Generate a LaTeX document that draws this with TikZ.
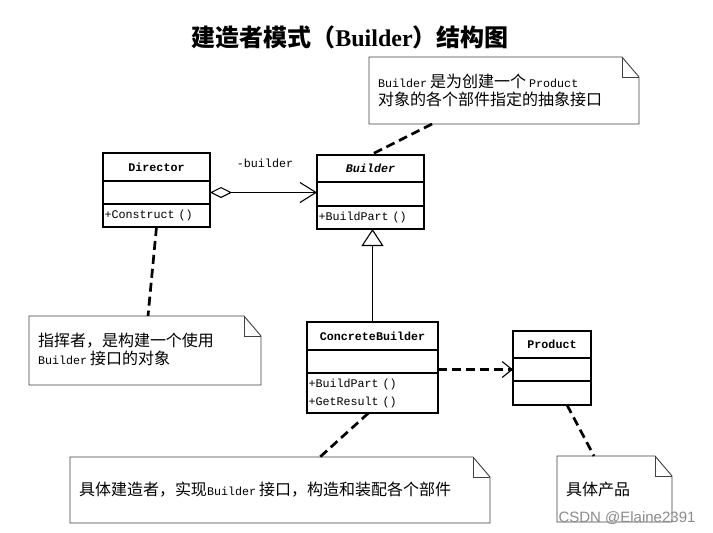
\documentclass[tikz,border=0pt]{standalone}
\usepackage{fontspec}
\setmainfont{Liberation Mono}
\newfontfamily\cjk{Noto Sans CJK SC}
\newfontfamily\titlelat{Liberation Serif}
\newfontfamily\wmfont{Liberation Sans}
\usetikzlibrary{positioning,calc,arrows.meta}

\newcommand{\zh}[1]{{\cjk\fontsize{16}{18}\selectfont #1}}
\newcommand{\en}[1]{{\rmfamily\fontsize{11.7}{18}\selectfont #1}}

\tikzset{
  umlbox/.style={draw, line width=1.1pt, inner xsep=1.5pt, inner ysep=0pt, outer sep=0pt,
    text width=#1, font=\fontsize{11.7}{18}\selectfont},
  umlname/.style={umlbox=#1, align=center, font=\bfseries\fontsize{11.7}{18}\selectfont},
  umlops/.style={umlbox=#1, align=left},
  notebox/.style={anchor=north west, inner xsep=9pt, inner ysep=0pt, outer sep=0pt,
    align=left, font=\fontsize{11.7}{18}\selectfont},
  noteline/.style={draw=black!75, line width=0.9pt},
  notelink/.style={line width=2.7pt, dash pattern=on 9pt off 5pt},
}

% Outline of a note with a folded corner
\newcommand{\notefold}[1]{%
  \draw[noteline] (#1.north west) -- ($(#1.north east)+(-17pt,0pt)$)
    -- ($(#1.north east)+(0pt,-20pt)$) -- (#1.south east) -- (#1.south west) -- cycle;
  \draw[noteline] ($(#1.north east)+(-17pt,0pt)$) |- ($(#1.north east)+(0pt,-20pt)$);}

\begin{document}
\begin{tikzpicture}[x=1pt,y=-1pt]

% Page frame
\path[use as bounding box, fill=white] (0,0) rectangle (713,533);

% Title
\node (title) at (350,37) {\cjk\bfseries\fontsize{24}{28}\selectfont
  建造者模式（{\titlelat\bfseries Builder}）结构图};

% Director class
\node[umlname=104pt, minimum height=28pt, anchor=north west] (dir-name) at (103,153) {Director};
\node[umlops=104pt, minimum height=23pt, below=0pt of dir-name] (dir-attr) {};
\node[umlops=104pt, minimum height=23pt, below=0pt of dir-attr] (dir-ops) {+Construct ()};

% Builder class
\node[umlname=104pt, minimum height=27pt, anchor=north west] (bld-name) at (317,155) {\itshape Builder};
\node[umlops=104pt, minimum height=24pt, below=0pt of bld-name] (bld-attr) {};
\node[umlops=104pt, minimum height=23pt, below=0pt of bld-attr] (bld-ops) {+BuildPart ()};

% ConcreteBuilder class
\node[umlname=128pt, minimum height=28pt, anchor=north west] (cb-name) at (307,322) {ConcreteBuilder};
\node[umlops=128pt, minimum height=23pt, below=0pt of cb-name] (cb-attr) {};
\node[umlops=128pt, minimum height=40pt, below=0pt of cb-attr] (cb-ops) {+BuildPart ()\\+GetResult ()};

% Product class
\node[umlname=75pt, minimum height=27pt, anchor=north west] (prod-name) at (513,331) {Product};
\node[umlops=75pt, minimum height=23pt, below=0pt of prod-name] (prod-attr) {};
\node[umlops=75pt, minimum height=24pt, below=0pt of prod-attr] (prod-ops) {};

% Relations
\draw[line width=1.1pt, {Diamond[open,length=22pt,width=11pt]}-{Straight Barb[length=16pt,width=20pt]}]
  (dir-attr.east) -- (dir-attr.east -| bld-attr.west);
\node[font=\fontsize{11.7}{14}\selectfont] (role) at (265,163) {-builder};
\draw[line width=1.1pt, -{Triangle[open,length=17pt,width=22pt]}]
  (cb-name.north) -- (cb-name.north |- bld-ops.south);
\draw[line width=2.7pt, dash pattern=on 9pt off 5pt,
  -{Straight Barb[length=10pt,width=16pt,line width=1.1pt]}]
  (prod-attr.west -| cb-attr.east) -- (prod-attr.west);

% Notes
\node[notebox, minimum width=270pt, minimum height=67pt, text width=252pt] (nb) at (369,57)
  {\en{Builder}\hspace{3pt}\zh{是为创建一个}\hspace{3pt}\en{Product}\\\zh{对象的各个部件指定的抽象接口}};
\node[notebox, minimum width=232pt, minimum height=69pt, text width=214pt, text depth=22pt] (nd) at (29,316)
  {\zh{指挥者，是构建一个使用}\\\en{Builder}\hspace{3pt}\zh{接口的对象}};
\node[notebox, minimum width=420pt, minimum height=66pt, text width=402pt] (nc) at (70,457)
  {\zh{具体建造者，实现}\en{Builder}\hspace{3pt}\zh{接口，构造和装配各个部件}};
\node[notebox, minimum width=115pt, minimum height=66pt, text width=97pt] (np) at (557,456)
  {\zh{具体产品}};
\notefold{nb}
\notefold{nd}
\notefold{nc}
\notefold{np}

% Note links
\draw[notelink] ($(nb.south west)+(63pt,0pt)$) -- (bld-name.north);
\draw[notelink] (dir-ops.south) -- ($(nd.north west)+(119pt,0pt)$);
\draw[notelink] ($(cb-ops.south)+(-4pt,0pt)$) -- ($(nc.north west)+(250pt,0pt)$);
\draw[notelink] ($(prod-ops.south)+(15pt,0pt)$) -- ($(np.north west)+(37pt,0pt)$);

% Watermark
\node[text=black!45, font=\wmfont\fontsize{15}{18}\selectfont] (mark) at (627,518) {CSDN @Elaine2391};

\end{tikzpicture}
\end{document}
